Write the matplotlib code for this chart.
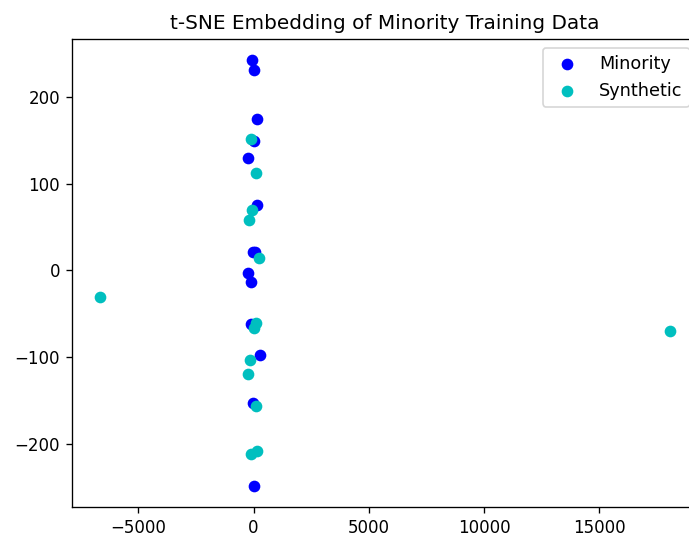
import matplotlib
matplotlib.use('Agg')
import matplotlib.pyplot as plt

# t-SNE coordinates
minority_x = [-74, 43, 143, 0, -230, 160, -43, 60, -247, -117, -100, 290, -43, 43]
minority_y = [242.2, 231.4, 175.1, 148.7, 129.9, 75.5, 21.7, 21.0, -2.6, -13.8, -61.5, -97.8, -152.8, -248.0]

synthetic_x = [-117, 100, -74, -186, 260, -6648, 100, 0, -143, -247, 100, -117, 173, 18070]
synthetic_y = [151.7, 112.3, 70.2, 58.0, 14.3, -30.2, -60.9, -66.2, -103.7, -119.8, -156.3, -211.0, -208.5, -70.0]

TITLE = 't-SNE Embedding of Minority Training Data'


def main():
    fig = plt.figure(figsize=(689 / 120, 540 / 120), dpi=120)
    # axes run past the right edge, like the cropped original
    ax = fig.add_axes([71.7 / 689, 33 / 540, 627 / 689, 468 / 540])
    ax.scatter(minority_x, minority_y, c='b', label='Minority')
    ax.scatter(synthetic_x, synthetic_y, c='c', label='Synthetic')
    ax.set_title(TITLE)
    ax.legend(loc='upper right', fontsize=10.6)
    fig.savefig('out.png', dpi=120)
    plt.close(fig)


if __name__ == '__main__':
    main()
